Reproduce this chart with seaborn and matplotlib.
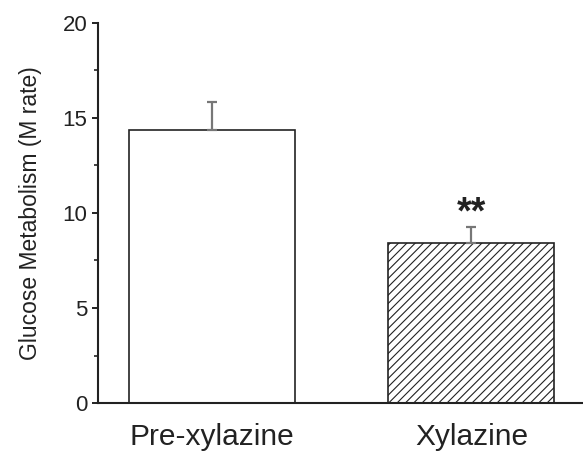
import matplotlib
matplotlib.use("Agg")
import matplotlib.pyplot as plt
import seaborn as sns
import pandas as pd
from matplotlib.ticker import MultipleLocator

conditions = ["Pre-xylazine", "Xylazine"]
means = [14.35, 8.4]
errors = [1.5, 0.88]
significance = ["", "**"]

sns.set_theme(style="ticks")
plt.rcParams['font.family'] = ['Liberation Sans', 'DejaVu Sans']
plt.rcParams['hatch.linewidth'] = 0.8
plt.rcParams['hatch.color'] = '#333333'

df = pd.DataFrame({"condition": conditions, "mean": means})

fig = plt.figure(figsize=(5.83, 4.57), dpi=100)
ax = fig.add_axes([0.168, 0.118, 0.832, 0.832])

sns.barplot(data=df, x="condition", y="mean", ax=ax, color="white",
            edgecolor="#222222", linewidth=1.2, width=0.64, errorbar=None,
            saturation=1)
ax.patches[1].set_hatch('////')

xs = range(len(conditions))
ax.errorbar(list(xs), means, yerr=[[0]*len(errors), errors], fmt='none',
            ecolor='#777777', elinewidth=1.6, capsize=3.5, capthick=1.6, zorder=3)
for x, m, e, s in zip(xs, means, errors, significance):
    if s:
        ax.text(x, m + e + 0.15, s, ha='center', va='baseline', fontsize=27,
                fontweight='bold', color='#222222')

ax.set_ylim(0, 20)
ax.set_xlim(-0.44, 1.43)
ax.yaxis.set_major_locator(MultipleLocator(5))
ax.yaxis.set_minor_locator(MultipleLocator(2.5))
ax.set_xlabel("")
ax.set_ylabel("Glucose Metabolism (M rate)", fontsize=16.5, color='#222222', labelpad=15)
ax.tick_params(axis='y', which='major', length=4.5, width=1.4, labelsize=16,
               pad=3, colors='#222222')
ax.tick_params(axis='y', which='minor', length=3, width=1.2, colors='#222222')
ax.tick_params(axis='x', length=0, labelsize=21.5, pad=14, colors='#222222')
for side in ['left', 'bottom']:
    ax.spines[side].set_linewidth(1.5)
    ax.spines[side].set_color('#222222')
sns.despine(ax=ax)

fig.savefig("out.png", dpi=100)
